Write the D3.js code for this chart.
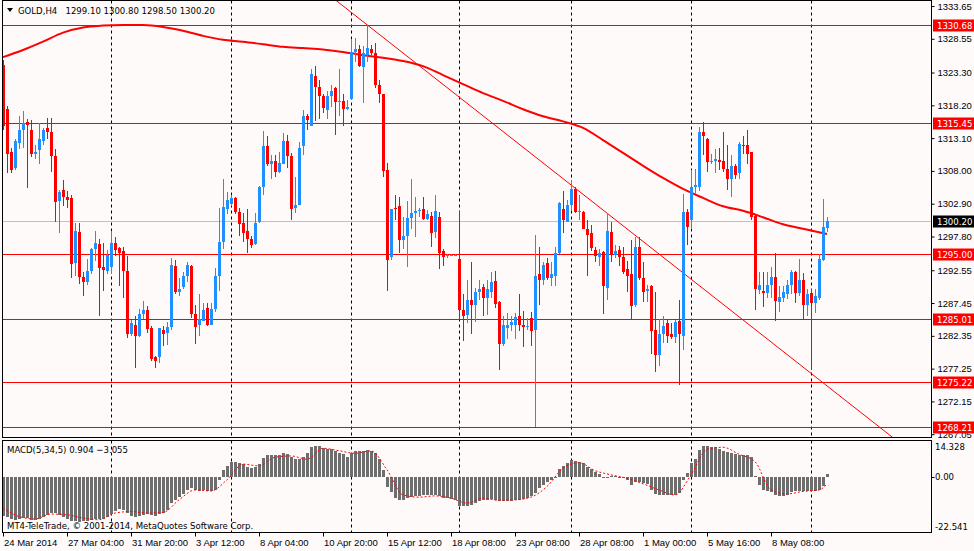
<!DOCTYPE html>
<html>
<head>
<meta charset="utf-8">
<script src="https://cdn.jsdelivr.net/npm/d3@7"></script>
<style>
body { margin: 0; background: #fffafa; }
svg { display: block; font-family: "DejaVu Sans Condensed", "DejaVu Sans", sans-serif; font-size: 9px; }
</style>
</head>
<body>
<svg id="canvas"></svg>
<script>
//--GOLD H4 candles (bar 0 = 24 Mar 2014 12:00)
let open = [1324.5,1317.7,1311.0,1308.5,1312.4,1314.4,1315.6,1314.4,1310.7,1311.2,1312.6,1314.6,1314.0,1310.3,1303.3,1305.1,1303.9,1303.8,1293.6,1298.5,
1291.5,1290.8,1292.4,1295.8,1296.6,1293.1,1292.4,1293.0,1296.8,1296.0,1295.5,1292.4,1282.7,1284.1,1282.3,1285.7,1286.3,1283.6,1279.0,1279.0,
1283.3,1282.8,1283.7,1293.2,1289.2,1290.0,1291.6,1293.2,1285.7,1284.0,1284.7,1286.7,1284.0,1286.6,1291.6,1297.0,1302.1,1302.9,1303.8,1301.6,
1299.9,1298.7,1297.4,1296.6,1300.0,1305.5,1311.8,1309.1,1309.5,1307.8,1309.1,1312.7,1310.3,1302.3,1302.7,1311.8,1316.6,1315.0,1322.8,1321.1,
1319.7,1317.4,1319.6,1320.9,1318.8,1318.9,1317.7,1319.2,1326.5,1327.0,1324.1,1326.1,1327.0,1326.3,1321.4,1319.9,1308.2,1294.6,1302.3,1302.6,
1297.2,1297.8,1300.6,1301.4,1301.7,1302.1,1300.5,1301.0,1298.5,1300.9,1295.6,1294.7,1294.8,1294.9,1294.3,1286.4,1285.6,1287.9,1287.2,1289.2,
1289.9,1288.2,1289.2,1290.9,1287.6,1281.1,1283.5,1284.0,1284.1,1285.4,1284.0,1283.7,1285.2,1283.2,1291.9,1291.0,1293.6,1291.4,1291.7,1295.2,
1302.1,1300.1,1302.7,1305.2,1301.6,1301.6,1299.0,1298.3,1295.7,1294.6,1295.4,1289.8,1298.5,1294.9,1295.7,1294.6,1292.7,1291.9,1287.1,1296.2,
1291.4,1289.3,1290.1,1283.2,1279.4,1282.7,1284.4,1282.7,1282.1,1284.6,1282.4,1301.6,1300.4,1305.5,1305.5,1314.0,1313.0,1309.4,1309.6,1309.7,
1309.5,1308.3,1306.8,1308.7,1307.7,1312.0,1312.0,1310.9,1301.0,1289.5,1289.4,1289.0,1290.3,1291.5,1287.6,1288.2,1288.9,1290.3,1292.3,1289.0,
1291.1,1287.1,1289.0,1287.5,1288.3,1294.2,1299.1];
let high = [1325.2,1318.1,1311.6,1313.0,1316.6,1317.3,1316.0,1315.9,1312.0,1315.4,1314.7,1316.3,1316.3,1311.4,1305.0,1306.6,1304.8,1304.2,1299.9,1299.9,
1292.2,1294.3,1296.0,1298.6,1297.4,1296.8,1295.7,1298.5,1297.7,1296.2,1296.1,1294.8,1284.8,1285.5,1286.6,1287.8,1287.0,1283.9,1279.2,1283.6,
1283.9,1284.5,1294.4,1294.1,1291.3,1292.3,1293.8,1293.4,1287.1,1288.8,1287.5,1287.4,1287.4,1292.9,1302.3,1306.7,1304.7,1304.2,1303.9,1302.3,
1301.4,1302.1,1297.9,1301.5,1305.6,1314.2,1313.5,1310.4,1310.4,1310.9,1313.9,1313.6,1310.8,1307.1,1312.5,1317.5,1316.9,1323.8,1324.3,1322.2,
1320.0,1320.4,1321.4,1321.0,1323.8,1319.9,1319.1,1328.4,1328.7,1327.6,1327.5,1330.7,1327.6,1327.9,1322.2,1320.0,1309.2,1302.1,1304.3,1304.0,
1300.9,1303.3,1306.8,1304.0,1302.2,1303.9,1301.9,1301.6,1304.2,1301.6,1295.9,1295.0,1295.0,1295.0,1301.8,1288.8,1291.0,1293.8,1289.8,1291.1,
1290.4,1291.1,1292.3,1292.4,1287.8,1285.4,1285.9,1285.4,1285.9,1288.8,1286.2,1285.2,1286.0,1298.0,1296.1,1293.8,1294.4,1293.9,1296.1,1303.1,
1304.8,1303.4,1306.5,1305.5,1304.3,1301.8,1300.3,1299.6,1296.1,1295.9,1295.6,1301.5,1300.0,1296.4,1296.3,1296.1,1294.0,1297.2,1297.7,1297.7,
1293.8,1290.2,1290.2,1289.1,1284.9,1285.4,1284.8,1284.4,1284.8,1287.9,1304.4,1302.1,1308.1,1308.3,1314.8,1315.6,1313.1,1310.7,1311.4,1311.5,
1314.1,1312.1,1310.4,1309.1,1312.5,1313.5,1314.3,1311.0,1301.1,1292.2,1292.3,1292.2,1293.0,1295.2,1290.1,1290.1,1291.1,1292.6,1292.4,1294.3,
1292.1,1289.6,1289.6,1289.6,1295.1,1303.6,1300.8];
let low = [1314.3,1307.7,1307.7,1308.2,1311.4,1311.6,1305.4,1310.2,1309.9,1309.1,1312.0,1313.0,1307.9,1300.1,1298.3,1302.6,1302.2,1291.3,1291.6,1290.4,
1288.6,1290.3,1291.9,1294.0,1285.4,1289.3,1291.9,1291.9,1294.8,1290.1,1288.2,1282.0,1282.3,1277.4,1282.2,1284.9,1282.8,1278.4,1277.3,1278.2,
1280.7,1281.0,1283.3,1288.9,1288.5,1289.6,1290.7,1285.2,1281.1,1282.3,1284.6,1283.9,1284.0,1286.1,1289.3,1295.8,1301.3,1302.6,1301.3,1297.8,
1297.0,1295.3,1296.0,1296.4,1299.9,1304.3,1308.7,1306.7,1307.1,1307.6,1309.0,1308.4,1300.4,1301.5,1302.7,1310.4,1314.4,1315.0,1315.7,1316.0,
1317.0,1316.1,1317.9,1313.6,1316.5,1315.0,1317.5,1319.1,1325.0,1324.1,1318.6,1325.0,1326.1,1320.9,1318.6,1307.0,1289.3,1294.1,1300.4,1295.3,
1295.8,1293.1,1298.9,1297.7,1300.9,1300.4,1300.3,1296.2,1297.5,1292.8,1293.2,1294.5,1294.7,1294.8,1284.8,1281.5,1284.3,1282.7,1284.5,1288.0,
1285.4,1285.6,1288.3,1286.7,1277.1,1280.8,1281.9,1283.1,1281.9,1283.1,1280.6,1283.3,1280.7,1268.2,1287.2,1290.2,1291.0,1290.1,1290.1,1295.1,
1298.3,1300.1,1301.7,1301.5,1300.3,1298.9,1291.7,1295.6,1293.9,1293.2,1285.8,1288.0,1293.9,1294.5,1293.2,1291.9,1289.2,1284.8,1286.8,1291.1,
1287.6,1287.6,1279.6,1276.8,1277.6,1281.3,1281.3,1281.8,1281.3,1274.7,1280.1,1296.4,1299.0,1304.4,1304.8,1310.4,1307.9,1309.1,1307.7,1308.2,
1307.9,1305.1,1304.0,1306.8,1306.8,1310.7,1309.1,1300.3,1286.4,1288.8,1286.9,1288.3,1288.3,1284.6,1286.0,1287.6,1288.1,1288.9,1287.5,1288.5,
1285.0,1285.5,1277.1,1285.9,1288.0,1294.0,1298.5];
let close = [1315.0,1310.7,1308.1,1312.6,1314.4,1315.5,1315.1,1310.7,1311.0,1312.9,1314.4,1314.0,1310.3,1303.2,1304.7,1303.9,1303.5,1293.5,1298.6,1291.5,
1290.7,1292.4,1295.8,1296.8,1292.9,1292.6,1294.9,1296.8,1295.7,1295.2,1292.4,1282.7,1284.3,1282.4,1285.7,1286.4,1283.4,1278.8,1278.5,1283.5,
1282.6,1283.7,1293.4,1289.2,1289.7,1291.6,1293.4,1285.7,1283.7,1285.0,1286.3,1284.0,1286.6,1291.6,1297.0,1302.4,1303.4,1303.8,1301.6,1299.7,
1298.4,1297.4,1296.5,1299.9,1305.5,1311.8,1309.1,1309.5,1307.9,1309.3,1312.7,1310.3,1302.1,1302.7,1311.5,1316.6,1315.9,1323.0,1321.1,1319.6,
1317.8,1319.7,1320.4,1318.7,1318.9,1317.6,1317.9,1326.5,1327.0,1324.3,1326.3,1327.1,1326.4,1321.3,1319.9,1308.0,1294.1,1302.1,1302.1,1297.2,
1297.8,1300.6,1301.5,1301.8,1301.9,1300.5,1301.3,1298.4,1301.7,1295.2,1294.6,1294.9,1294.9,1294.9,1286.4,1285.4,1288.0,1287.1,1289.1,1289.6,
1288.2,1289.6,1290.7,1287.3,1281.1,1284.0,1284.1,1284.5,1285.3,1284.0,1283.7,1283.9,1283.1,1291.7,1291.0,1293.3,1291.4,1291.9,1295.2,1303.0,
1300.4,1302.7,1305.2,1301.6,1301.8,1299.0,1298.0,1296.0,1294.8,1295.3,1290.1,1298.7,1295.1,1295.5,1294.6,1292.3,1291.7,1287.0,1296.2,1291.3,
1289.2,1289.6,1283.1,1279.3,1282.7,1283.9,1282.4,1282.2,1284.5,1282.6,1301.6,1299.3,1305.5,1305.8,1314.0,1313.5,1309.4,1309.6,1309.8,1309.4,
1308.3,1306.7,1308.7,1307.3,1312.2,1311.9,1310.7,1300.8,1289.6,1290.2,1289.0,1290.3,1291.5,1287.7,1288.4,1289.2,1290.3,1292.3,1289.0,1291.0,
1287.1,1288.8,1287.4,1288.5,1294.3,1299.2,1300.2];
//--

//--moving average (read every 5 bars)
let maBars = [0,5,10,15,20,25,30,35,40,45,50,55,60,65,70,75,80,85,90,95,100,105,110,115,120,125,130,135,140,145,150,155,160,165,170,175,180,185,190,195,200,206];
let maValues = [1325.7,1326.8,1328.1,1329.5,1330.3,1330.6,1330.7,1330.7,1330.4,1329.8,1329.0,1328.4,1328.1,1327.7,1327.3,1327.1,1326.9,1326.5,1326.0,1325.6,
1325.1,1324.3,1322.9,1321.5,1320.1,1318.9,1317.6,1316.5,1315.7,1314.7,1312.8,1310.8,1308.8,1306.9,1305.2,1303.8,1302.5,1301.8,1300.8,1299.7,1299.0,1298.2];

//--horizontal levels, bid line and trend line
let levels = [1330.68, 1315.45, 1295.00, 1285.01, 1275.22, 1268.21];
let bid = 1300.20;
let trendBars = [89.5, 206.75];
let trendPrices = [1331.47, 1274.2];

//--MACD(5,34,5)
let macd = [-15.8,-16.3,-17.1,-17.4,-17.1,-16.7,-16.7,-17.4,-17.4,-17.0,-16.3,-15.4,-14.5,-14.7,-15.4,-16.1,-17.1,-18.1,-18.1,-18.3,
-18.1,-17.8,-17.4,-17.0,-17.1,-17.0,-16.1,-15.0,-13.7,-13.1,-13.4,-14.7,-15.8,-16.1,-15.8,-15.4,-15.1,-15.4,-15.7,-15.0,
-14.5,-13.4,-10.7,-9.4,-8.3,-7.0,-5.4,-4.7,-5.6,-6.0,-5.6,-6.0,-6.0,-5.4,-1.3,2.7,4.3,6.0,5.8,5.4,
5.0,4.0,3.3,4.0,5.1,7.4,8.7,8.7,8.7,8.7,9.4,9.1,8.0,7.1,7.1,7.8,9.6,11.8,12.3,12.3,
11.4,11.1,11.0,10.4,9.6,9.0,8.0,9.6,10.4,10.3,10.4,10.7,10.4,9.4,7.0,2.7,-4.3,-6.4,-8.7,-9.4,
-9.4,-8.7,-8.4,-8.0,-7.8,-7.6,-7.4,-7.4,-7.4,-8.0,-8.7,-8.7,-9.0,-9.4,-11.8,-12.0,-12.0,-11.4,-10.7,-10.0,
-9.4,-9.4,-9.1,-9.4,-9.8,-10.0,-10.0,-9.8,-9.6,-9.4,-9.1,-8.7,-8.0,-6.7,-4.7,-3.3,-2.0,-1.3,-0.3,2.9,
4.3,5.4,6.7,6.4,6.0,5.4,4.0,2.9,2.0,1.1,-0.7,-0.3,0.3,0.3,-0.1,-0.7,-1.3,-3.3,-2.0,-2.0,
-2.7,-2.9,-5.4,-7.0,-7.6,-7.6,-7.5,-7.6,-7.5,-6.7,-1.3,1.6,5.4,7.0,10.7,12.3,12.3,12.0,11.8,11.1,
10.4,9.8,9.4,9.0,8.7,8.7,8.7,8.0,0.3,-3.3,-5.4,-6.0,-6.4,-7.4,-7.8,-7.8,-7.4,-6.4,-6.0,-6.0,
-6.0,-5.8,-5.8,-5.8,-5.6,-4.0,0.904];
let signalBars = [0,4,8,12,16,20,24,28,32,36,40,44,48,52,56,60,64,68,72,76,80,84,88,92,96,100,104,108,112,116,
120,124,128,132,136,140,144,148,152,156,160,164,168,172,176,180,184,188,192,196,200,204,206];
let signalValues = [-12.7,-16.1,-17.1,-15.1,-15.4,-16.7,-17.4,-14.7,-14.1,-14.7,-14.5,-9.4,-5.4,-5.8,-1.3,5.0,4.3,7.8,8.3,7.0,
11.4,10.4,9.4,10.3,2.7,-7.4,-8.3,-7.8,-8.7,-10.7,-8.7,-9.6,-9.4,-8.3,-4.0,3.3,5.6,2.4,0.7,-0.7,
-2.9,-5.4,-7.4,0.7,11.0,11.8,9.0,6.0,-5.4,-7.0,-6.0,-5.4,-3.055];

//--axis ticks and labels
let priceTicks = [1333.65,1328.55,1323.30,1318.20,1313.10,1308.00,1302.90,1297.80,1292.55,1287.45,1282.35,1277.25,1272.15,1267.05];
let macdTicks = [14.328, 0, -22.541];
let macdTickLabels = ['14.328', '0.00', '-22.541'];
let dateBars = [0,16,32,48,64,80,96,112,128,144,160,176,192];
let dateLabels = ['24 Mar 2014','27 Mar 04:00','31 Mar 20:00','3 Apr 12:00','8 Apr 04:00','10 Apr 20:00','15 Apr 12:00',
'18 Apr 08:00','23 Apr 08:00','28 Apr 08:00','1 May 00:00','5 May 16:00','8 May 08:00'];
let weekBars = [27, 57, 87, 114, 142, 172, 202];
//--

let width = 974;
let height = 551;

let canvas = d3.select('#canvas')
canvas.attr('width', width)
canvas.attr('height', height)

canvas.append('rect')
      .attr('width', width)
      .attr('height', height)
      .attr('fill', '#fffafa')

//--panels
let left = 2.5, right = 931.5;
let priceTop = 0.5, priceBottom = 437.5;
let macdTop = 440.5, macdBottom = 532.5;

let x = d3.scaleLinear().domain([0, 206]).range([3, 827]);
let y = d3.scaleLinear().domain([1267.05, 1333.65]).range([434.2, 6]);
let ym = d3.scaleLinear().domain([-22.541, 14.328]).range([532.5, 441]);

let defs = canvas.append('defs')
defs.append('clipPath').attr('id', 'clipPrice')
    .append('rect').attr('x', left).attr('y', priceTop).attr('width', right - left).attr('height', priceBottom - priceTop)
defs.append('clipPath').attr('id', 'clipMacd')
    .append('rect').attr('x', left).attr('y', macdTop).attr('width', right - left).attr('height', macdBottom - macdTop)

let price = canvas.append('g').attr('clip-path', 'url(#clipPrice)')
let lower = canvas.append('g').attr('clip-path', 'url(#clipMacd)')

//--week separators
price.selectAll('line.week')
     .data(weekBars)
     .enter()
     .append('line')
     .attr('x1', d => Math.round(x(d)) + 0.5)
     .attr('x2', d => Math.round(x(d)) + 0.5)
     .attr('y1', priceTop)
     .attr('y2', priceBottom)
     .attr('stroke', '#000')
     .attr('stroke-dasharray', '3,3')
lower.selectAll('line.week')
     .data(weekBars)
     .enter()
     .append('line')
     .attr('x1', d => Math.round(x(d)) + 0.5)
     .attr('x2', d => Math.round(x(d)) + 0.5)
     .attr('y1', macdTop)
     .attr('y2', macdBottom)
     .attr('stroke', '#000')
     .attr('stroke-dasharray', '3,3')

//--levels
price.append('line')
     .attr('x1', left).attr('x2', right)
     .attr('y1', Math.round(y(bid)) + 0.5).attr('y2', Math.round(y(bid)) + 0.5)
     .attr('stroke', '#c0c0c0')

price.selectAll('line.level')
     .data(levels)
     .enter()
     .append('line')
     .attr('x1', left).attr('x2', right)
     .attr('y1', d => Math.round(y(d)) + 0.5)
     .attr('y2', d => Math.round(y(d)) + 0.5)
     .attr('stroke', '#ff0000')

//--trend line, extended both ways
let slope = (trendPrices[1] - trendPrices[0]) / (trendBars[1] - trendBars[0]);
let trendAt = b => trendPrices[0] + slope * (b - trendBars[0]);
price.append('line')
     .attr('x1', x(70)).attr('y1', y(trendAt(70)))
     .attr('x2', x(240)).attr('y2', y(trendAt(240)))
     .attr('stroke', '#ff0000')
     .attr('stroke-width', 1)

//--moving average
let maLine = d3.line()
               .x((d, i) => x(maBars[i]))
               .y(d => y(d))
               .curve(d3.curveMonotoneX)
price.append('path')
     .attr('d', maLine(maValues))
     .attr('fill', 'none')
     .attr('stroke', '#ff0000')
     .attr('stroke-width', 2)

//--candles
let bars = d3.range(open.length)
let candle = price.selectAll('g.candle')
                  .data(bars)
                  .enter()
                  .append('g')
                  .attr('shape-rendering', 'crispEdges')
                  .attr('fill', d => close[d] >= open[d] ? '#1e90ff' : '#ff0000')
                  .attr('stroke', d => close[d] >= open[d] ? '#1e90ff' : '#ff0000')

candle.append('line')
      .attr('x1', d => Math.round(x(d)) + 0.5)
      .attr('x2', d => Math.round(x(d)) + 0.5)
      .attr('y1', d => y(high[d]))
      .attr('y2', d => y(low[d]))

candle.append('rect')
      .attr('stroke', 'none')
      .attr('x', d => Math.round(x(d)) - 1)
      .attr('width', 3)
      .attr('y', d => y(Math.max(open[d], close[d])))
      .attr('height', d => Math.max(1, Math.abs(y(open[d]) - y(close[d]))))

//--MACD histogram and signal
lower.selectAll('rect.hist')
     .data(macd)
     .enter()
     .append('rect')
     .attr('shape-rendering', 'crispEdges')
     .attr('x', (d, i) => Math.round(x(i)) - 1)
     .attr('width', 3)
     .attr('y', d => ym(Math.max(d, 0)))
     .attr('height', d => Math.max(1, Math.abs(ym(d) - ym(0))))
     .attr('fill', '#6e6e6e')

let sigLine = d3.line()
                .x((d, i) => x(signalBars[i]))
                .y(d => ym(d))
                .curve(d3.curveMonotoneX)
lower.append('path')
     .attr('d', sigLine(signalValues))
     .attr('fill', 'none')
     .attr('stroke', '#ff0000')
     .attr('stroke-dasharray', '2,2')

//--frames
canvas.append('rect')
      .attr('x', left).attr('y', priceTop)
      .attr('width', right - left).attr('height', priceBottom - priceTop)
      .attr('fill', 'none').attr('stroke', '#000')
canvas.append('rect')
      .attr('x', left).attr('y', macdTop)
      .attr('width', right - left).attr('height', macdBottom - macdTop)
      .attr('fill', 'none').attr('stroke', '#000')

//--price axis
let priceAxis = canvas.append('g')
                      .attr('transform', 'translate(' + right + ',0)')
                      .call(d3.axisRight(y).tickValues(priceTicks).tickSize(3).tickPadding(3).tickFormat(d3.format('.2f')))
priceAxis.select('.domain').remove()
priceAxis.selectAll('text').attr('fill', '#000').style('font-size', '9.5px').style('font-family', null)
priceAxis.selectAll('line').attr('stroke', '#000')

//--coloured price labels
let tags = levels.map(d => ({value: d, bg: '#ff0000'})).concat([{value: bid, bg: '#000'}])
let tag = canvas.selectAll('g.tag')
                .data(tags)
                .enter()
                .append('g')
                .attr('transform', d => 'translate(' + (right + 1.5) + ',' + Math.round(y(d.value)) + ')')
tag.append('rect')
   .attr('x', 0).attr('y', -5.5)
   .attr('width', 41).attr('height', 12)
   .attr('fill', d => d.bg)
tag.append('text')
   .attr('x', 4).attr('y', 0.5)
   .attr('dy', '0.35em')
   .attr('fill', '#fff')
   .style('font-size', '9.5px')
   .text(d => d3.format('.2f')(d.value))

//--MACD axis
canvas.append('line')
      .attr('x1', right).attr('x2', right + 3)
      .attr('y1', Math.round(ym(0)) + 0.5).attr('y2', Math.round(ym(0)) + 0.5)
      .attr('stroke', '#000')
canvas.selectAll('text.macdTick')
      .data(macdTicks)
      .enter()
      .append('text')
      .attr('x', right + 3.5)
      .attr('y', d => Math.min(Math.max(ym(d), 447), 527))
      .attr('dy', '0.35em')
      .style('font-size', '9.5px')
      .text((d, i) => macdTickLabels[i])

//--time axis
let timeAxis = canvas.append('g')
                     .attr('transform', 'translate(0,' + macdBottom + ')')
                     .call(d3.axisBottom(x).tickValues(dateBars).tickSize(4).tickPadding(3).tickFormat((d, i) => dateLabels[i]))
timeAxis.select('.domain').remove()
timeAxis.selectAll('text').attr('text-anchor', 'start').attr('x', 0.5).attr('fill', '#000').style('font-size', '9.5px').style('font-family', null)
timeAxis.selectAll('line').attr('stroke', '#000')

//--captions
canvas.append('path')
      .attr('d', 'M7,8 L13,8 L10,12 Z')
      .attr('fill', '#000')
canvas.append('text')
      .attr('x', 18).attr('y', 10.5).attr('dy', '0.35em')
      .style('font-size', '9.5px')
      .text('GOLD,H4')
canvas.append('text')
      .attr('x', 65.5).attr('y', 10.5).attr('dy', '0.35em')
      .style('font-size', '9.5px')
      .text([open[206], high[206], low[206], close[206]].map(d3.format('.2f')).join(' '))
canvas.append('text')
      .attr('x', 7).attr('y', 450).attr('dy', '0.35em')
      .style('font-size', '9.5px')
      .text('MACD(5,34,5) ' + d3.format('.3f')(macd[206]) + ' ' + d3.format('.3f')(signalValues[signalValues.length - 1]))
canvas.append('text')
      .attr('x', 7).attr('y', 526).attr('dy', '0.35em')
      .style('font-size', '9.5px')
      .text('MT4-TeleTrade, © 2001-2014, MetaQuotes Software Corp.')
</script>
</body>
</html>
